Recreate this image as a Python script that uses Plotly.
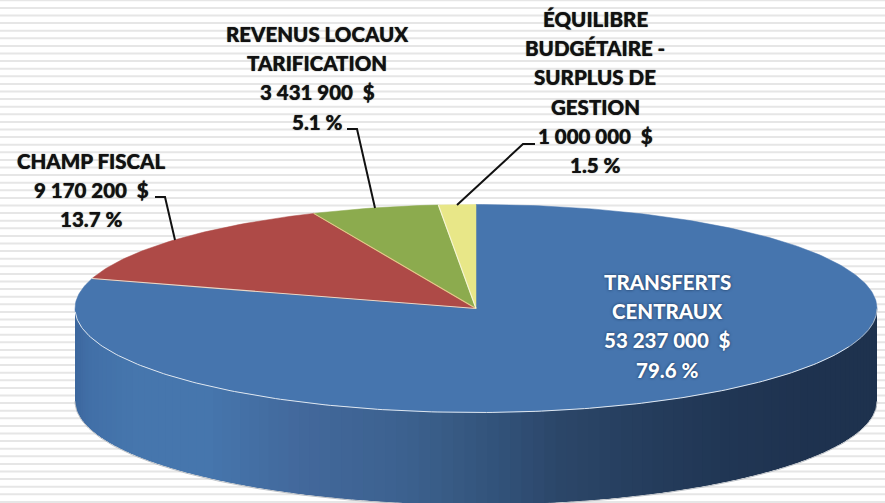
import numpy as np
import plotly.graph_objects as go

# ---- data ----
categories = ["TRANSFERTS CENTRAUX", "CHAMP FISCAL", "REVENUS LOCAUX TARIFICATION",
              "ÉQUILIBRE BUDGÉTAIRE - SURPLUS DE GESTION"]
values = [53237000, 9170200, 3431900, 1000000]
percent_labels = ["79.6 %", "13.7 %", "5.1 %", "1.5 %"]
amount_labels = ["53 237 000 \u00a0$", "9 170 200 \u00a0$", "3 431 900 \u00a0$", "1 000 000 \u00a0$"]
name_lines = [["TRANSFERTS", "CENTRAUX"], ["CHAMP FISCAL"],
              ["REVENUS LOCAUX", "TARIFICATION"],
              ["ÉQUILIBRE", "BUDGÉTAIRE -", "SURPLUS DE", "GESTION"]]

# ---- style / layout ----
W, H = 885, 503
CX, CY, RX, RY, DEPTH = 476, 308.5, 401, 104, 92
top_colors = ["#4675ae", "#ae4a47", "#8cab4e", "#e8e788"]
edge_colors = ["#e8eef6", "#e8d8c8", "#e8c88c", "#f6f6d8"]
label_x = [667, 91, 317, 595]
label_first_y = [282, 161, 34, 19]
label_dy = 29.2
label_color = ["#ffffff", "#111111", "#111111", "#111111"]
FONT = "Lato"
FS = 20.5
side_stops_x = [75, 90, 130, 210, 300, 400, 445, 500, 560, 640, 720, 800, 877]
side_stops_c = ["#3d689e", "#4270a8", "#4676ad", "#4676ad", "#43699c", "#3d6290", "#395c86",
                "#32527a", "#2c4769", "#263e5e", "#213755", "#1f3350", "#1e324e"]
leaders = [
    ([155, 165, 175], [197, 197, 240]),
    ([347, 357, 375], [129, 129, 208]),
    ([535, 523, 457], [144, 144, 205]),
]


def ellipse(theta):
    """theta in radians, clockwise from 12 o'clock."""
    return CX + RX * np.sin(theta), CY - RY * np.cos(theta)


fractions = np.array(values, dtype=float) / sum(values)
bounds = np.concatenate([[0], np.cumsum(fractions)]) * 2 * np.pi

fig = go.Figure()

# side of the cylinder (only the blue slice is visible from the front), overlapping strips
rgb = np.array([[int(c[i:i + 2], 16) for i in (1, 3, 5)] for c in side_stops_c], dtype=float)
n = 110
th = np.linspace(np.pi / 2, 3 * np.pi / 2, n + 1)
step = th[1] - th[0]
for a, b in zip(th[:-1], th[1:]):
    seg = np.linspace(a, min(b + 1.5 * step, 3 * np.pi / 2), 5)
    sx, sy = ellipse(seg)
    mid = ellipse((a + b) / 2)[0]
    col = [np.interp(mid, side_stops_x, rgb[:, k]) for k in range(3)]
    color = "rgb(%d,%d,%d)" % tuple(col)
    fig.add_trace(go.Scatter(
        x=np.concatenate([sx, sx[::-1]]), y=np.concatenate([sy, sy[::-1] + DEPTH]),
        mode="lines", fill="toself", fillcolor=color, line=dict(width=0),
        hoverinfo="skip", showlegend=False))

# outer glow on the lower rim
rim = np.linspace(np.pi / 2, 3 * np.pi / 2, 240)
rx_, ry_ = ellipse(rim)
fig.add_trace(go.Scatter(x=rx_, y=ry_ + DEPTH + 0.8, mode="lines",
                         line=dict(color="#b9bec4", width=1), hoverinfo="skip", showlegend=False))

# top face wedges, from the values
for i in range(len(values)):
    t = np.linspace(bounds[i], bounds[i + 1], max(int(fractions[i] * 400), 12))
    ex, ey = ellipse(t)
    fig.add_trace(go.Scatter(
        x=np.concatenate([[CX], ex, [CX]]), y=np.concatenate([[CY], ey, [CY]]),
        mode="lines", fill="toself", fillcolor=top_colors[i],
        line=dict(color=top_colors[i], width=0.5),
        name=categories[i], hoverinfo="skip", showlegend=False))

# pale seams between slices
for i in range(1, len(values)):
    ex, ey = ellipse(bounds[i])
    fig.add_trace(go.Scatter(x=[CX, ex], y=[CY, ey], mode="lines",
                             line=dict(color=edge_colors[i], width=1.1),
                             hoverinfo="skip", showlegend=False))

# light edge along the front of the top face
t = np.linspace(np.pi * 0.62, np.pi * 1.49, 200)
ex, ey = ellipse(t)
fig.add_trace(go.Scatter(x=ex, y=ey, mode="lines", line=dict(color="#dfe7f0", width=1),
                         hoverinfo="skip", showlegend=False))
t = np.linspace(np.pi * 0.5, np.pi * 0.62, 60)
ex, ey = ellipse(t)
fig.add_trace(go.Scatter(x=ex, y=ey, mode="lines", line=dict(color="#a9b6c6", width=1),
                         hoverinfo="skip", showlegend=False))

# leader lines
for lx, ly in leaders:
    fig.add_trace(go.Scatter(x=lx, y=ly, mode="lines", line=dict(color="#111111", width=2),
                             hoverinfo="skip", showlegend=False))

# labels, one annotation per line for the wide line spacing
annotations = []
for i in range(len(values)):
    lines = name_lines[i] + [amount_labels[i], percent_labels[i]]
    for j, line in enumerate(lines):
        font = dict(family=FONT, size=FS, color=label_color[i], weight=900)
        font["shadow"] = "0px 0px 3px #1c3556" if i == 0 else "0px 0px 1px #333333"
        annotations.append(dict(x=label_x[i], y=label_first_y[i] + j * label_dy, text=line,
                                showarrow=False, xanchor="center", yanchor="middle",
                                font=font))

stripes = [dict(type="line", xref="paper", yref="y", x0=0, x1=1, y0=y, y1=y, layer="below",
                line=dict(color="#e6e6e6", width=2))
           for y in np.arange(0.3, H, 7.6)]

fig.update_layout(
    width=W, height=H, margin=dict(l=0, r=0, t=0, b=0),
    paper_bgcolor="#ffffff", plot_bgcolor="#ffffff",
    xaxis=dict(range=[0, W], visible=False, fixedrange=True),
    yaxis=dict(range=[H, 0], visible=False, fixedrange=True),
    annotations=annotations, shapes=stripes, showlegend=False,
)
fig.write_html("out.html", config={"displayModeBar": False},
               post_script="document.body.style.margin='0';")
